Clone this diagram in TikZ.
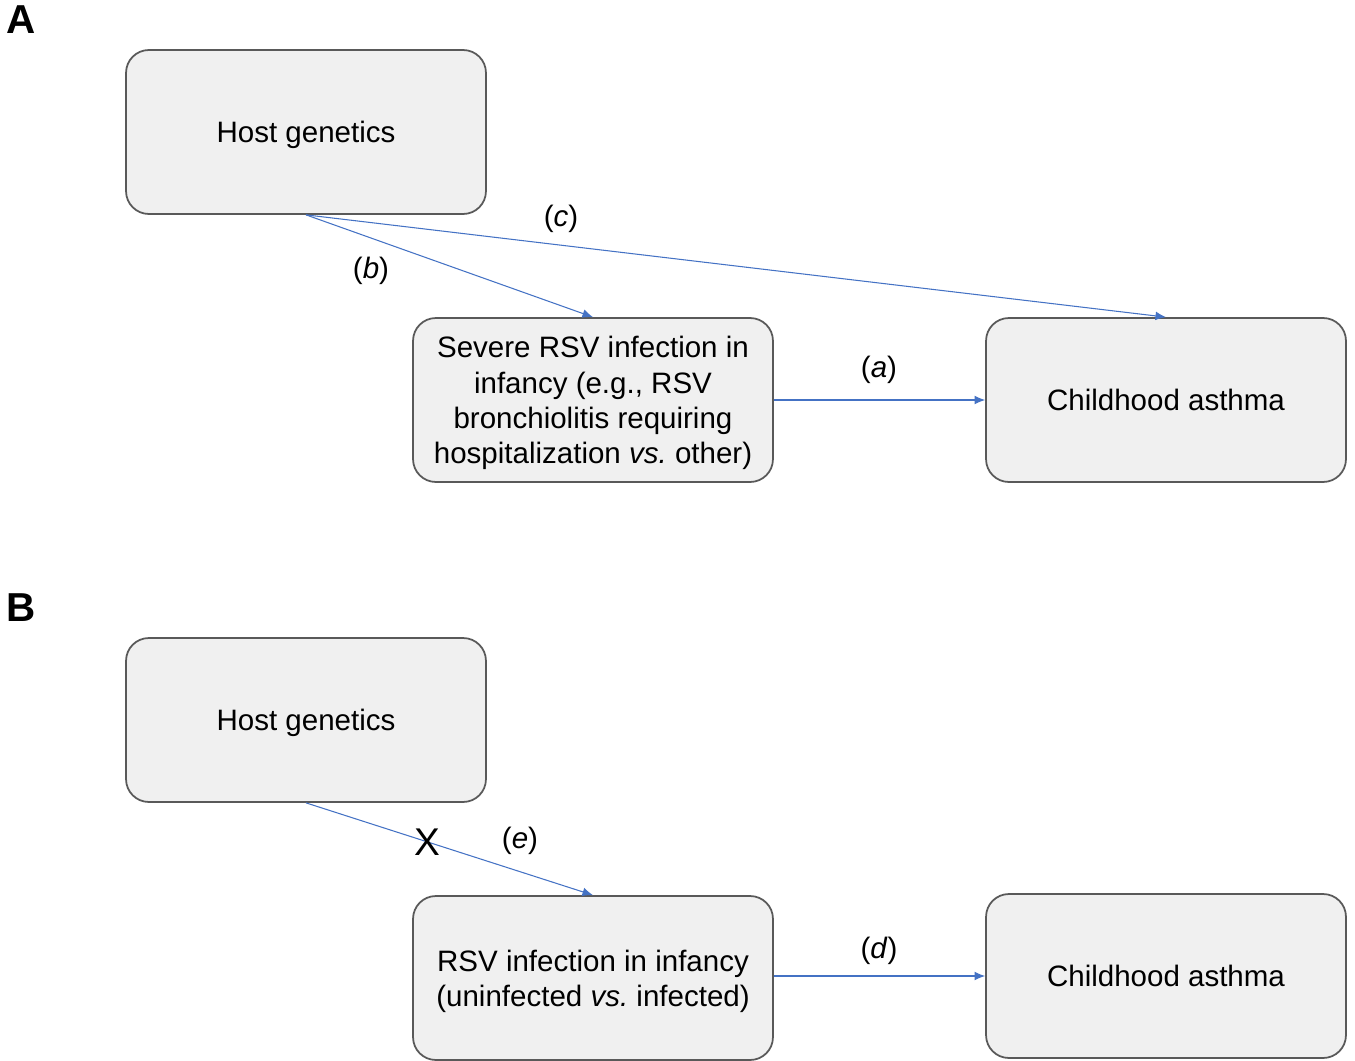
\documentclass[tikz,border=0pt]{standalone}
\usepackage{fontspec}
\setmainfont{Liberation Sans}
\usetikzlibrary{arrows.meta}

\definecolor{arrowblue}{RGB}{68,114,196}

\tikzset{
  box/.style={draw=black!65, line width=1pt, fill=black!6, rounded corners=13pt,
    minimum width=7.2cm, minimum height=3.28cm, align=center, text depth=0pt,
    font=\fontsize{16.8}{20}\selectfont},
  link/.style={draw=arrowblue, line width=0.6pt, -{Latex[length=6pt,width=5pt]}},
  lbl/.style={font=\fontsize{16.8}{20}\selectfont},
  panel/.style={font=\fontsize{23}{26}\selectfont\bfseries}
}

\begin{document}
\begin{tikzpicture}[x=0.02cm, y=-0.02cm]
\useasboundingbox (0,0) rectangle (1355,1061);

% Teil A
\node[panel] (labA) at (21,20) {A};
\node[box] (hostA) at (306,132) {Host genetics};
\node[box] (rsvA) at (593,400) {Severe RSV infection in\\infancy (e.g., RSV\\bronchiolitis requiring\\hospitalization \emph{vs.}\ other)};
\node[box] (asthA) at (1166,400) {Childhood asthma};

\draw[link] (hostA.south) -- (rsvA.north);
\draw[link] (hostA.south) -- (asthA.north);
\draw[link] (rsvA) -- (asthA);
\node[lbl] (lb) at (371,271) {(\emph{b})};
\node[lbl] (lc) at (561,219) {(\emph{c})};
\node[lbl] (la) at (879,370) {(\emph{a})};

% Teil B
\node[panel] (labB) at (21,608) {B};
\node[box] (hostB) at (306,720) {Host genetics};
\node[box] (rsvB) at (593,978) {RSV infection in infancy\\(uninfected \emph{vs.}\ infected)};
\node[box] (asthB) at (1166,976) {Childhood asthma};

\draw[link] (hostB.south) -- (rsvB.north);
\draw[link] (rsvB.east |- asthB) -- (asthB);
\node[font=\fontsize{22}{24}\selectfont] (cross) at (427,842) {X};
\node[lbl] (le) at (520,841) {(\emph{e})};
\node[lbl] (ld) at (879,951) {(\emph{d})};
\end{tikzpicture}
\end{document}
